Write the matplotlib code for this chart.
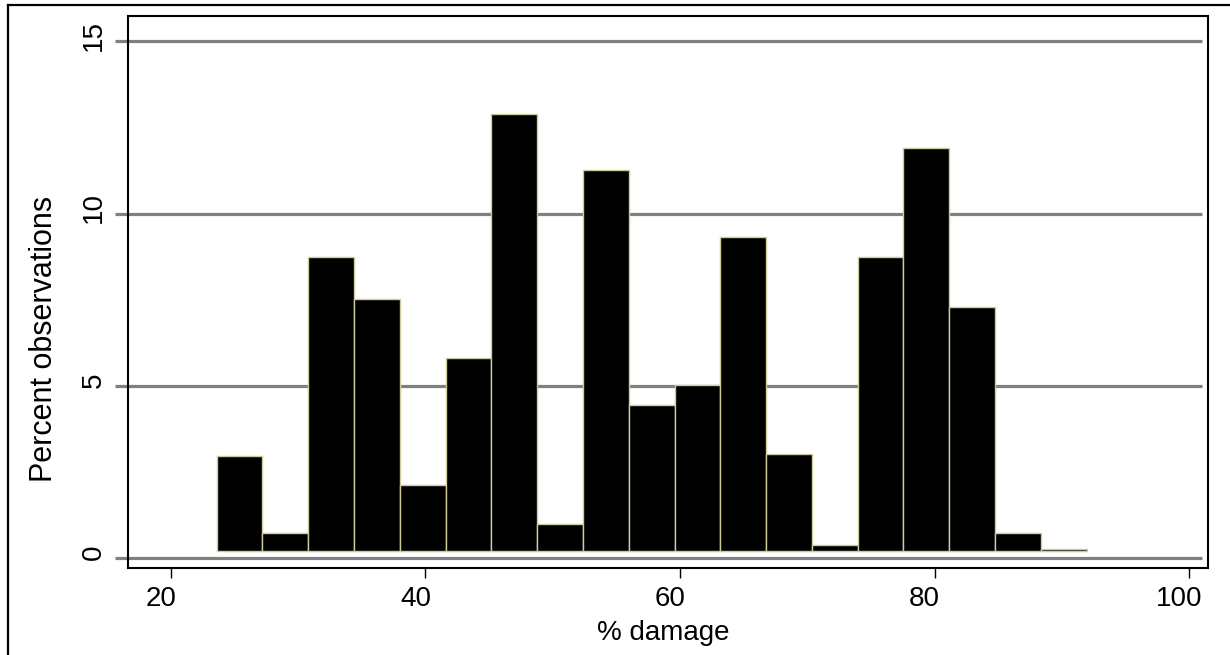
import matplotlib
matplotlib.use("Agg")
import matplotlib.pyplot as plt
from matplotlib.transforms import ScaledTranslation, blended_transform_factory
from matplotlib.lines import Line2D

plt.rcParams['font.family'] = ['Liberation Sans', 'DejaVu Sans']

# ---- data ----
bin_start = 23.61          # left edge of first bin (% damage)
bin_width = 3.596          # width of each bin
percent = [2.76, 0.51, 8.53, 7.30, 1.91, 5.61, 12.69, 0.79, 11.06, 4.25,
           4.81, 9.11, 2.81, 0.19, 8.52, 11.69, 7.08, 0.52, 0.07]
x_ticks = [20, 40, 60, 80, 100]
y_ticks = [0, 5, 10, 15]
x_label = "% damage"
y_label = "Percent observations"

baseline = 0.21  # bars are drawn slightly above the zero line

fig = plt.figure(figsize=(12.3, 6.55), dpi=100)
W, H = 1230, 655
ax = fig.add_axes([127.7 / W, 1 - 567.7 / H, (1207.7 - 127.7) / W, (567.7 - 16) / H])

ax.set_xlim(16.62, 101.445)
ax.set_ylim(-0.273, 15.734)

lefts = [bin_start + i * bin_width for i in range(len(percent))]
ax.bar(lefts, percent, width=bin_width, bottom=baseline, align='edge',
       color='black', edgecolor='#cfc99c', linewidth=1.0, zorder=3)

# gridlines extending left of the plot box (Stata style)
trans = blended_transform_factory(ax.transAxes, ax.transData)
x0 = (115 - 127.7) / 1080
x1 = (1201.7 - 127.7) / 1080
for yv in y_ticks:
    ax.plot([x0, x1], [yv, yv], transform=trans, color='#808080',
            linewidth=2.3, clip_on=False, zorder=2, solid_capstyle='butt')

for s in ax.spines.values():
    s.set_linewidth(1.5)
    s.set_color('black')
    s.set_zorder(4)

ax.set_xticks(x_ticks)
ax.set_xticklabels([str(v) for v in x_ticks])
ax.tick_params(axis='x', direction='out', length=7, width=1, pad=6, labelsize=20)
for lab in ax.get_xticklabels():
    lab.set_transform(lab.get_transform() + ScaledTranslation(-10 / 100, 0, fig.dpi_scale_trans))

ax.set_yticks(y_ticks)
ax.set_yticklabels([str(v) for v in y_ticks])
ax.tick_params(axis='y', length=0, pad=15, labelsize=20, labelrotation=90)
for lab in ax.get_yticklabels():
    lab.set_va('center')
    lab.set_transform(lab.get_transform() + ScaledTranslation(0, 6 / 100, fig.dpi_scale_trans))

ax.set_xlabel(x_label, fontsize=20, va='center')
ax.xaxis.set_label_coords((663 - 127.7) / 1080, (567.7 - 633) / 551.7)
ax.set_ylabel(y_label, fontsize=22, va='center')
ax.yaxis.set_label_coords((44 - 127.7) / 1080, (567.7 - 339) / 551.7)

# outer frame (top and left edges of the enclosing graph region)
fig.add_artist(Line2D([8.3 / W, 1.0], [1 - 5 / H, 1 - 5 / H], transform=fig.transFigure,
                      color='black', linewidth=1.6))
fig.add_artist(Line2D([8.3 / W, 8.3 / W], [0, 1 - 5 / H], transform=fig.transFigure,
                      color='black', linewidth=1.6))

fig.savefig("out.png", dpi=100, facecolor='white')
